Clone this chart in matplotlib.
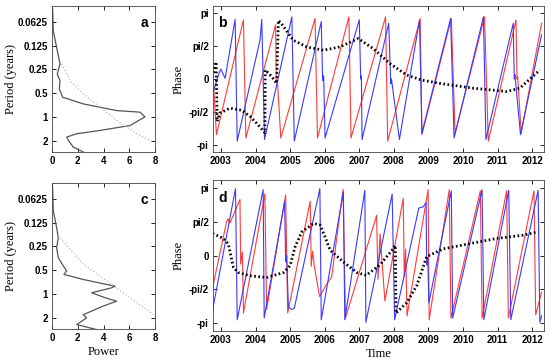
import numpy as np
import matplotlib
matplotlib.use("Agg")
import matplotlib.pyplot as plt

# %% data
# power spectra (left panels): power vs period (years)
a_power = [0.05, 0.1, 0.36, 0.62, 0.41, 0.62, 0.57, 0.83, 2.43, 5.02, 6.83, 7.22, 6.06, 3.73, 1.92, 1.14, 1.27, 1.65, 2.43]
a_period = [0.043, 0.081, 0.131, 0.213, 0.286, 0.347, 0.443, 0.563, 0.685, 0.833, 0.872, 1.0, 1.29, 1.49, 1.64, 1.81, 1.99, 2.42, 2.8]
a_sig_power = [0.75, 1.4, 2.43, 3.73, 5.02, 6.58, 7.87]
a_sig_period = [0.213, 0.347, 0.51, 0.75, 1.11, 1.64, 2.09]

c_power = [0.05, 0.1, 0.36, 0.49, 0.36, 0.49, 0.88, 1.14, 0.93, 2.43, 4.25, 4.89, 4.63, 3.08, 4.12, 5.02, 3.99, 2.43, 2.69, 1.92, 2.43, 3.47]
c_period = [0.045, 0.088, 0.144, 0.193, 0.259, 0.347, 0.443, 0.513, 0.567, 0.657, 0.761, 0.798, 0.838, 0.97, 1.12, 1.24, 1.43, 1.84, 2.02, 2.46, 2.58, 2.85]
c_sig_power = [0.49, 2.43, 5.02, 7.87]
c_sig_period = [0.183, 0.42, 0.84, 1.84]

# phase panels (b): blue, red, black dotted
b_blue_t = [2002.76, 2002.95, 2003.0, 2003.12, 2003.41, 2003.47, 2004.13, 2004.18, 2004.26, 2005.05, 2005.12,
            2005.90, 2005.94, 2005.97, 2006.01, 2007.0, 2007.04, 2007.06, 2007.08, 2007.85, 2007.91, 2007.93,
            2008.16, 2008.74, 2008.81, 2009.64, 2009.74, 2010.59, 2010.66, 2011.45, 2011.48, 2011.50, 2011.66, 2012.27]
b_blue_p = [-0.71, 0.31, 0.47, 0.03, 2.86, -2.98, 1.88, 2.86, -2.90, 2.98, -2.98,
            2.75, -0.08, 0.16, -2.83, 2.84, 0.0, 0.15, -2.90, 2.67, -0.24, 0.0,
            -2.90, 2.83, -2.59, 2.9, -2.83, 2.98, -2.90, 2.67, 0.0, 0.2, -2.67, 2.12]

b_red_t = [2002.76, 2002.78, 2002.87, 2003.65, 2003.72, 2004.58, 2004.60, 2004.64, 2004.73, 2005.72, 2005.79,
           2006.70, 2006.76, 2007.76, 2007.82, 2008.76, 2008.81, 2009.66, 2009.77, 2010.62, 2010.73,
           2011.53, 2011.56, 2011.58, 2011.68, 2012.27]
b_red_p = [1.1, -0.08, -2.67, 2.83, -2.83, 2.6, -0.1, -0.3, -2.83, 2.9, -2.83,
           2.98, -2.83, 2.98, -2.98, 2.9, -2.67, 2.9, -2.6, 2.98, -2.98,
           2.83, 0.0, 0.1, -2.59, 2.67]

b_blk_t = [2002.78, 2002.86, 2002.89, 2002.97, 2003.26, 2003.6, 2003.84, 2004.05, 2004.27, 2004.28, 2004.45,
           2004.61, 2004.66, 2004.75, 2005.09, 2005.48, 2005.96, 2006.44, 2006.97, 2007.40, 2007.88,
           2008.37, 2008.80, 2009.33, 2010.29, 2011.26, 2011.64, 2012.22]
b_blk_p = [0.3, 0.82, -2.03, -1.63, -1.40, -1.5, -1.79, -2.15, -2.58, 0.43, 0.15,
           -0.21, 2.81, 2.65, 1.86, 1.54, 1.38, 1.54, 1.94, 1.46, 0.75,
           0.19, -0.05, -0.21, -0.44, -0.60, -0.44, 0.43]

# phase panels (d)
d_blue_t = [2002.76, 2003.42, 2003.47, 2004.22, 2004.25, 2004.84, 2004.87, 2004.90, 2004.95, 2005.05, 2005.12,
            2005.86, 2005.90, 2006.54, 2006.58, 2007.16, 2007.19, 2007.95, 2008.02, 2008.72, 2008.84,
            2008.93, 2008.95, 2008.98, 2009.01, 2009.66, 2009.70, 2010.55, 2010.60, 2011.32, 2011.38,
            2012.17, 2012.22, 2012.27]
d_blue_p = [-2.51, 3.1, -2.98, 3.05, -2.9, 2.5, -0.3, 0.0, -2.4, -2.5, -2.45,
            3.1, -2.98, 2.95, -2.98, 3.02, -3.1, 2.85, -2.98, 2.2, 2.25,
            2.45, -0.45, -0.1, -2.2, 3.0, -2.9, 3.05, -2.98, 3.02, -2.98,
            3.02, -3.1, -2.8]

d_red_t = [2002.76, 2003.16, 2003.2, 2003.26, 2003.55, 2003.57, 2003.62, 2003.65, 2004.27, 2004.32, 2004.87,
           2004.93, 2005.58, 2005.61, 2005.65, 2005.7, 2005.85, 2006.05, 2006.2, 2006.53, 2006.6,
           2007.5, 2007.54, 2007.6, 2007.74, 2008.27, 2008.3, 2008.34, 2008.38, 2008.99, 2009.02,
           2009.60, 2009.65, 2010.50, 2010.55, 2011.26, 2011.31, 2012.05, 2012.10, 2012.27]
d_red_p = [-1.48, 1.54, 1.7, 1.5, 2.6, -0.4, 0.16, -2.67, 2.86, -2.51, 2.81,
           -2.67, 2.52, -0.5, 0.2, -0.5, -1.9, -1.35, -1.0, 3.06, -2.9,
           1.86, -1.1, 1.0, -2.11, 2.65, -1.0, 0.3, -2.8, 3.05, -2.98,
           3.05, -2.9, 3.0, -2.9, 3.0, -2.9, 3.0, -2.75, -1.7]

d_blk_t = [2002.76, 2003.07, 2003.21, 2003.36, 2003.5, 2003.84, 2004.32, 2004.81, 2005.0, 2005.14, 2005.34,
           2005.68, 2005.87, 2006.01, 2006.16, 2006.55, 2006.93, 2007.2, 2007.6, 2007.97, 2008.04,
           2008.06, 2008.37, 2008.66, 2008.95, 2009.43, 2010.20, 2010.97, 2011.74, 2012.17]
d_blk_p = [1.02, 0.79, 0.55, -0.55, -0.79, -0.94, -1.02, -0.79, -0.47, 0.39, 1.1,
           1.49, 1.41, 0.86, 0.24, -0.31, -0.79, -0.92, -0.43, 0.29, 0.47,
           -2.67, -2.19, -1.40, -0.05, 0.31, 0.55, 0.79, 0.94, 1.10]

period_ticks = [0.0625, 0.125, 0.25, 0.5, 1, 2]
period_labels = ['0.0625', '0.125', '0.25', '0.5', '1', '2']
phase_ticks = [-np.pi, -np.pi / 2, 0, np.pi / 2, np.pi]
phase_labels = ['-pi', '-pi/2', '0', 'pi/2', 'pi']
year_ticks = list(range(2003, 2013))

# %% figure
tick_font = {'family': 'Liberation Sans', 'size': 7, 'weight': 'bold'}
lab_font = {'family': 'Liberation Serif', 'size': 9}

fig = plt.figure(figsize=(5.5, 3.59), dpi=100)
ax_a = fig.add_axes([52 / 550, 1 - 152 / 359, 103 / 550, 146 / 359])
ax_c = fig.add_axes([52 / 550, 1 - 329 / 359, 103 / 550, 146 / 359])
ax_b = fig.add_axes([213 / 550, 1 - 152 / 359, 331 / 550, 146 / 359])
ax_d = fig.add_axes([213 / 550, 1 - 331 / 359, 331 / 550, 151 / 359])


def style(ax):
    ax.tick_params(direction='in', top=True, right=True, length=3, width=0.6, pad=3)
    for s in ax.spines.values():
        s.set_linewidth(0.6)
        s.set_color('#444444')
    for lbl in ax.get_xticklabels() + ax.get_yticklabels():
        lbl.set_fontproperties(matplotlib.font_manager.FontProperties(**tick_font))


for ax, pw, per, sp, spr, letter in [(ax_a, a_power, a_period, a_sig_power, a_sig_period, 'a'),
                                     (ax_c, c_power, c_period, c_sig_power, c_sig_period, 'c')]:
    ax.plot(pw, per, color='#555555', lw=0.9)
    ax.plot(sp, spr, color='#aaaaaa', lw=0.8, ls=(0, (1, 2)))
    ax.set_yscale('log', base=2)
    ax.set_ylim(2.8, 0.039)
    ax.set_xlim(0, 8)
    ax.set_xticks([0, 2, 4, 6, 8])
    ax.set_yticks(period_ticks)
    ax.set_yticklabels(period_labels)
    ax.minorticks_off()
    ax.set_ylabel('Period (years)', fontdict=lab_font, labelpad=1)
    ax.text(0.93, 0.93, letter, transform=ax.transAxes, ha='right', va='top',
            fontsize=10, fontweight='bold', family='Liberation Sans')
    style(ax)
ax_c.set_xlabel('Power', fontdict=lab_font, labelpad=2)

for ax, bt, bp, rt, rp, kt, kp, letter in [(ax_b, b_blue_t, b_blue_p, b_red_t, b_red_p, b_blk_t, b_blk_p, 'b'),
                                           (ax_d, d_blue_t, d_blue_p, d_red_t, d_red_p, d_blk_t, d_blk_p, 'd')]:
    ax.plot(rt, rp, color='#ff3a3a', lw=0.8)
    ax.plot(bt, bp, color='#3a3aff', lw=0.8)
    ax.plot(kt, kp, color='black', lw=2.0, ls=(0, (0.6, 0.9)))
    ax.set_xlim(2002.77, 2012.34)
    ax.set_ylim(-3.5, 3.5)
    ax.set_xticks(year_ticks)
    ax.set_yticks(phase_ticks)
    ax.set_yticklabels(phase_labels)
    ax.set_ylabel('Phase', fontdict=lab_font, labelpad=3)
    ax.text(0.015, 0.93, letter, transform=ax.transAxes, ha='left', va='top',
            fontsize=10, fontweight='bold', family='Liberation Sans')
    style(ax)
ax_d.set_xlabel('Time', fontdict=lab_font, labelpad=2)

fig.savefig('out.png', dpi=100)
